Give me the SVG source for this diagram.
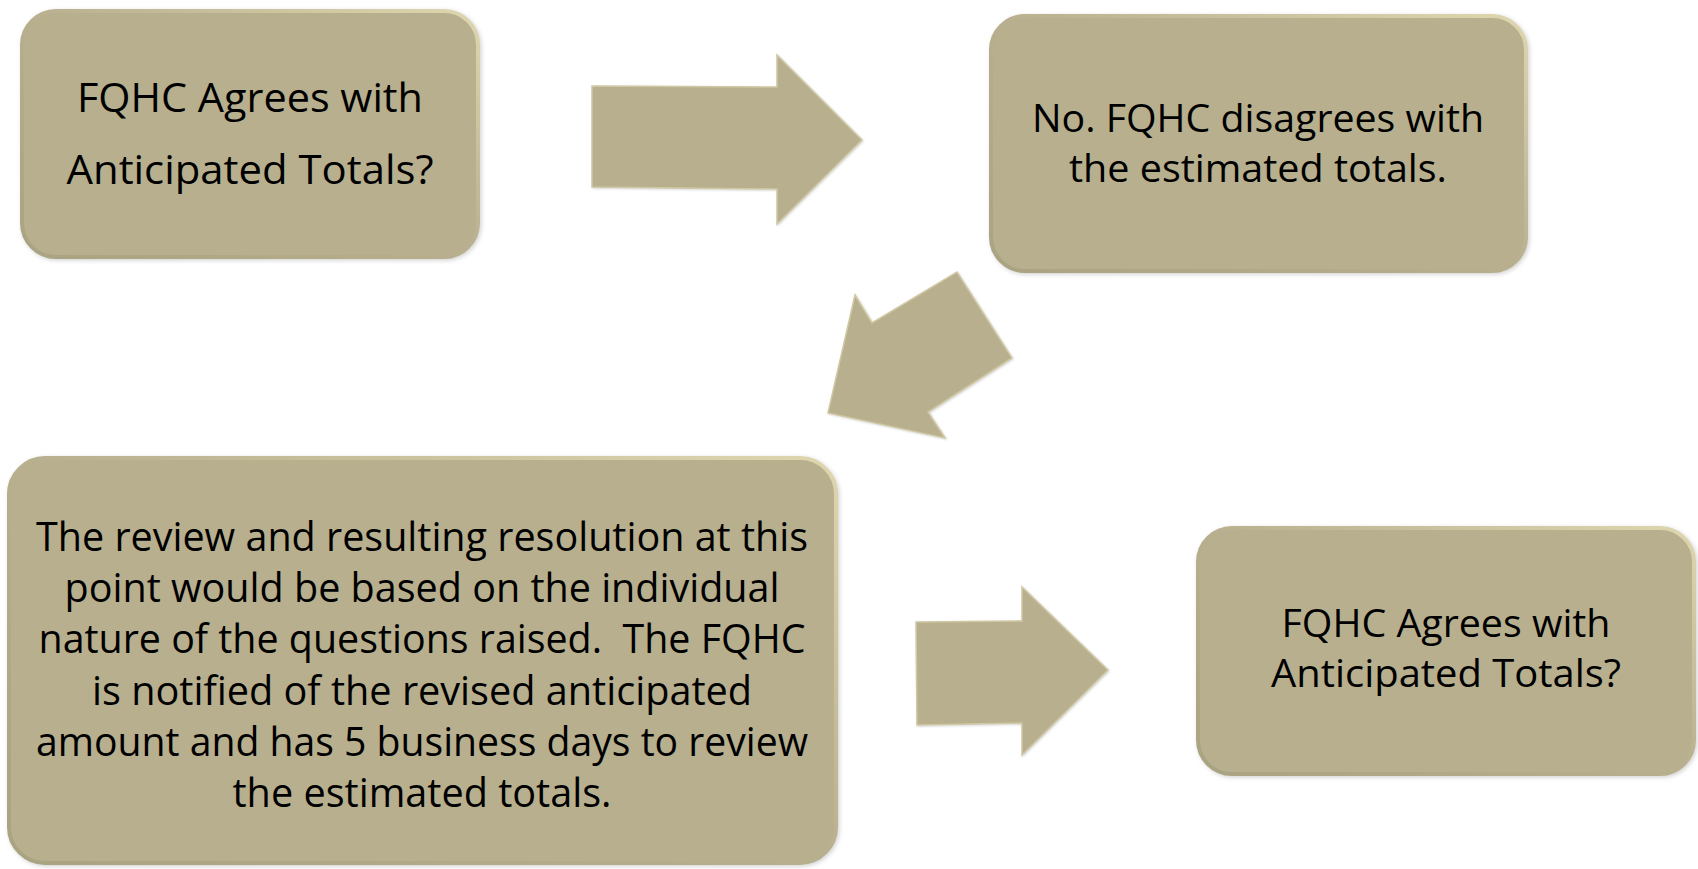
<svg xmlns="http://www.w3.org/2000/svg" width="1698" height="869" viewBox="0 0 1698 869">
<defs>
<linearGradient id="bevel" x1="0" y1="1" x2="1" y2="0">
<stop offset="0" stop-color="#aaa382"/>
<stop offset="0.5" stop-color="#b7af8e"/>
<stop offset="1" stop-color="#ddd6ae"/>
</linearGradient>
<filter id="sh" x="-5%" y="-5%" width="110%" height="110%">
<feDropShadow dx="1.5" dy="1.5" stdDeviation="2" flood-color="#808080" flood-opacity="0.35"/>
</filter>
<filter id="ash" x="-5%" y="-5%" width="110%" height="110%">
<feDropShadow dx="1" dy="1" stdDeviation="1" flood-color="#9a9a9a" flood-opacity="0.4"/>
</filter>
</defs>
<style>
.box{fill:#b7af8e;stroke:url(#bevel);stroke-width:4;filter:url(#sh)}
.arrow{fill:#b7af8e;stroke:#cfc8a3;stroke-width:1.5;stroke-linejoin:miter;filter:url(#ash)}
.t{font-family:"Open Sans","Noto Sans","Liberation Sans",sans-serif;fill:#000;text-anchor:middle}
</style>
<rect width="1698" height="869" fill="#ffffff"/>
<g id="node1">
<rect class="box" x="22" y="11" width="456" height="246" rx="34"/>
<text class="t" font-size="41" x="250" y="112" textLength="346" lengthAdjust="spacingAndGlyphs">FQHC Agrees with</text>
<text class="t" font-size="41" x="250" y="184" textLength="367" lengthAdjust="spacingAndGlyphs">Anticipated Totals?</text>
</g>
<g id="node2">
<rect class="box" x="991" y="16" width="535" height="255" rx="34"/>
<text class="t" font-size="39" x="1258" y="132" textLength="452" lengthAdjust="spacingAndGlyphs">No. FQHC disagrees with</text>
<text class="t" font-size="39" x="1258" y="182" textLength="378" lengthAdjust="spacingAndGlyphs">the estimated totals.</text>
</g>
<g id="node3">
<rect class="box" x="9" y="458" width="827" height="405" rx="36"/>
<g class="t" font-size="40">
<text x="422" y="551" textLength="772" lengthAdjust="spacingAndGlyphs">The review and resulting resolution at this</text>
<text x="422" y="602" textLength="715" lengthAdjust="spacingAndGlyphs">point would be based on the individual</text>
<text x="422" y="653" textLength="767" lengthAdjust="spacingAndGlyphs" xml:space="preserve">nature of the questions raised.  The FQHC</text>
<text x="422" y="705" textLength="660" lengthAdjust="spacingAndGlyphs">is notified of the revised anticipated</text>
<text x="422" y="756" textLength="772" lengthAdjust="spacingAndGlyphs">amount and has 5 business days to review</text>
<text x="422" y="807" textLength="379" lengthAdjust="spacingAndGlyphs">the estimated totals.</text>
</g>
</g>
<g id="node4">
<rect class="box" x="1198" y="528" width="496" height="246" rx="34"/>
<text class="t" font-size="38" x="1446" y="637" textLength="329" lengthAdjust="spacingAndGlyphs">FQHC Agrees with</text>
<text class="t" font-size="38" x="1446" y="687" textLength="350" lengthAdjust="spacingAndGlyphs">Anticipated Totals?</text>
</g>
<g id="connectors">
<polygon class="arrow" points="592,86 777,87 777,55 862,140 777,224 777,189 592,187"/>
<polygon class="arrow" points="855,295 872,323 957,272 1012,358 928,412 945,438 828,413"/>
<polygon class="arrow" points="916,622 1022,621 1022,587 1108,670 1022,755 1022,723 917,725"/>
</g>
</svg>
